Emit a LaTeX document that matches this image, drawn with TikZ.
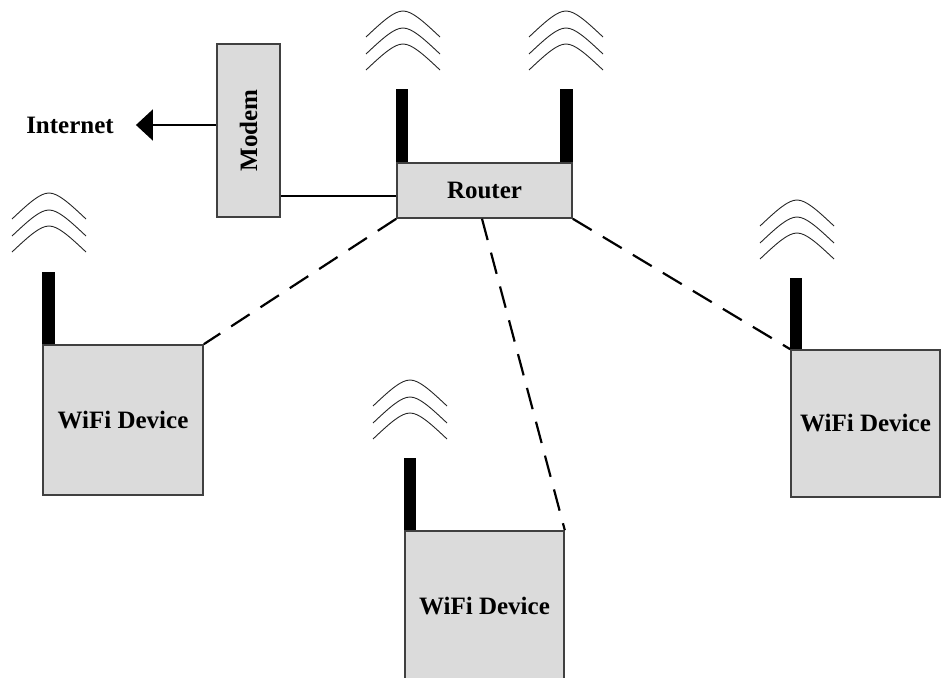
\documentclass[tikz,border=0pt]{standalone}
\usepackage{fontspec}
\setmainfont{Liberation Serif}
\usetikzlibrary{arrows.meta}

\tikzset{
  box/.style={draw=black!75, line width=1.6pt, fill=black!14, inner sep=0pt,
              font=\bfseries\fontsize{25}{25}\selectfont},
  antenna/.style={fill=black},
  wave/.style={draw=black!85, line width=0.9pt},
  wire/.style={draw=black, line width=2pt},
  radio/.style={draw=black, line width=2.2pt, dash pattern=on 22pt off 13pt},
  tag/.style={font=\bfseries\fontsize{25}{25}\selectfont, inner sep=0pt},
  radiowaves/.pic={
    \foreach \d in {0,17,33}{
      \draw[wave] (-37,26+\d) .. controls (-20,10+\d) and (-9,\d) .. (0,\d)
                  .. controls (9,\d) and (20,10+\d) .. (37,26+\d);
    }
  }
}

\begin{document}
\begin{tikzpicture}[x=1pt, y=-1pt]
  \useasboundingbox (0,0) rectangle (941,677);
  \clip (0,0) rectangle (941,677);

  % modem, router and the three wireless devices
  \node[box, minimum width=63pt, minimum height=173pt] (modem) at (248.5,130.5)
       {\rotatebox{90}{Modem}};
  \node[box, minimum width=175pt, minimum height=55pt] (router) at (484.5,190.5) {Router};
  \node[box, minimum width=160pt, minimum height=150pt] (dev1) at (123,420) {WiFi Device};
  \node[box, minimum width=159pt, minimum height=150pt] (dev2) at (484.5,606) {WiFi Device};
  \node[box, minimum width=149pt, minimum height=147pt] (dev3) at (865.5,423.5) {WiFi Device};

  \node[tag, inner xsep=22pt] (internet) at (70,125) {Internet};

  % antennas
  \fill[antenna] (router.north west) rectangle ++(12,-73);
  \fill[antenna] (router.north east) rectangle ++(-13,-73);
  \fill[antenna] (dev1.north west) rectangle ++(13,-72);
  \fill[antenna] (dev2.north west) rectangle ++(12,-72);
  \fill[antenna] (dev3.north west) rectangle ++(12,-71);

  % radio waves above each antenna
  \pic at (403,11) {radiowaves};
  \pic at (566,11) {radiowaves};
  \pic at (49,193) {radiowaves};
  \pic at (410,380) {radiowaves};
  \pic at (797,200) {radiowaves};

  % wired links
  \draw[wire, -{Triangle[length=17pt, width=31pt]}]
       (internet.east -| modem.west) -- (internet.east);
  \draw[wire] ([yshift=-5.5pt]router.west) -- ([yshift=-5.5pt]router.west -| modem.east);

  % wireless links
  \draw[radio] (router.south west) -- (dev1.north east);
  \draw[radio] ([xshift=-2.5pt]router.south) -- (dev2.north east);
  \draw[radio] (router.south east) -- (dev3.north west);
\end{tikzpicture}
\end{document}
